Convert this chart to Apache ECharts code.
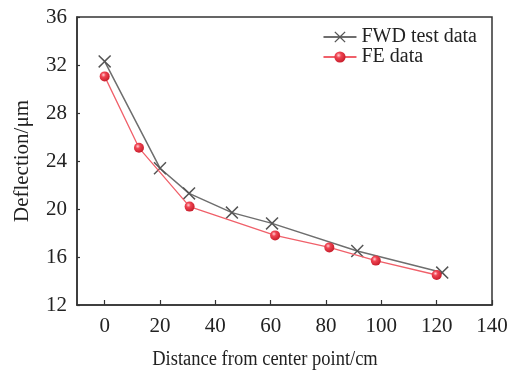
<!DOCTYPE html>
<html>
<head>
<meta charset="utf-8">
<script src="https://cdn.jsdelivr.net/npm/echarts@6/dist/echarts.min.js"></script>
<style>html,body{margin:0;padding:0;background:#fff;}#c{width:516px;height:370px;}</style>
</head>
<body>
<div id="c"></div>
<script>
const distFWD = [0, 20, 30.5, 46, 60.5, 91.3, 122];
const deflFWD = [32.3, 23.4, 21.3, 19.7, 18.8, 16.5, 14.7];
const distFE = [0, 12.4, 30.7, 61.6, 81.2, 98, 120];
const deflFE = [31.05, 25.1, 20.2, 17.8, 16.8, 15.7, 14.5];
const xTicks = [0, 20, 40, 60, 80, 100, 120, 140];
const yTicks = [12, 16, 20, 24, 28, 32, 36];
const seriesNames = ['FWD test data', 'FE data'];
const xTitle = 'Distance from center point/cm';
const yTitle = 'Deflection/μm';

const FONT = 'Liberation Serif';
const crossPath = 'path://M0,8 L8,0 L50,42 L92,0 L100,8 L58,50 L100,92 L92,100 L50,58 L8,100 L0,92 L42,50 Z';
const sphere = {
  type: 'radial', x: 0.38, y: 0.35, r: 0.65,
  colorStops: [{offset: 0, color: '#ffd0d4'}, {offset: 0.35, color: '#f04452'}, {offset: 1, color: '#c81e2c'}]
};

const chart = echarts.init(document.getElementById('c'));
chart.setOption({
  animation: false,
  backgroundColor: '#fff',
  grid: { left: 77, right: 24, top: 17, bottom: 65, show: true, borderColor: '#333', borderWidth: 1.5, backgroundColor: 'transparent' },
  legend: {
    orient: 'vertical', right: 34, top: 22, itemGap: 0, itemWidth: 33, itemHeight: 14,
    textStyle: { fontFamily: FONT, fontSize: 20, color: '#222' },
    data: seriesNames
  },
  xAxis: {
    type: 'value', min: -10, max: 140, interval: 10,
    axisLine: { show: true, onZero: false, lineStyle: { color: '#333', width: 1.5 } },
    axisTick: { show: true, inside: true, length: 5, customValues: xTicks, lineStyle: { color: '#333', width: 1.2 } },
    axisLabel: { customValues: xTicks, fontFamily: FONT, fontSize: 21, color: '#222', margin: 11 },
    splitLine: { show: false }
  },
  yAxis: {
    type: 'value', min: 12, max: 36, interval: 4,
    axisLine: { show: true, onZero: false, lineStyle: { color: '#333', width: 1.5 } },
    axisTick: { show: true, inside: true, length: 3, lineStyle: { color: '#333', width: 1.2 } },
    axisLabel: { customValues: yTicks, fontFamily: FONT, fontSize: 21, color: '#222', margin: 10 },
    splitLine: { show: false }
  },
  graphic: [
    { type: 'text', x: 265, y: 360, scaleY: 1.08,
      style: { text: xTitle, fontFamily: FONT, fontSize: 18.5, fontWeight: 'normal', fill: '#222', align: 'center', verticalAlign: 'middle' } },
    { type: 'text', x: 22, y: 161, rotation: Math.PI / 2,
      style: { text: yTitle, fontFamily: FONT, fontSize: 21, fontWeight: 'normal', fill: '#222', align: 'center', verticalAlign: 'middle' } }
  ],
  series: [
    {
      name: seriesNames[0], type: 'line', data: distFWD.map((d, i) => [d, deflFWD[i]]),
      symbol: crossPath, symbolSize: 13, showAllSymbol: true,
      lineStyle: { color: '#6e6e6e', width: 1.5 },
      itemStyle: { color: '#555' }, z: 2
    },
    {
      name: seriesNames[1], type: 'line', data: distFE.map((d, i) => [d, deflFE[i]]),
      symbol: 'circle', symbolSize: 10, showAllSymbol: true,
      lineStyle: { color: '#f0606a', width: 1.3 },
      itemStyle: { color: sphere }, z: 3
    }
  ]
});
</script>
</body>
</html>
